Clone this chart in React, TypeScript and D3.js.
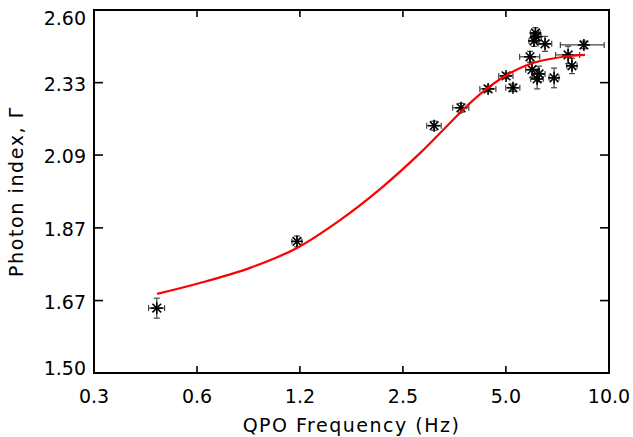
import React from "react";
import * as d3 from "d3";

// QPO frequency (Hz), frequency error, photon index, index error
const freq = [0.46, 1.195, 3.04, 3.65, 4.39, 4.96, 5.2, 6.06, 6.1, 6.0, 6.47, 5.84, 5.92, 6.21, 6.13, 6.88, 8.43, 7.57, 7.77];
const freqErr = [0.025, 0.04, 0.15, 0.2, 0.24, 0.24, 0.25, 0.2, 0.2, 0.2, 0.3, 0.4, 0.25, 0.26, 0.26, 0.23, 1.25, 0.62, 0.27];
const gamma = [1.655, 1.831, 2.182, 2.242, 2.307, 2.353, 2.311, 2.511, 2.496, 2.481, 2.47, 2.422, 2.375, 2.36, 2.342, 2.346, 2.466, 2.429, 2.389];
const gammaErr = [0.025, 0.015, 0.015, 0.015, 0.01, 0.01, 0.013, 0.02, 0.02, 0.02, 0.028, 0.02, 0.028, 0.028, 0.035, 0.035, 0.014, 0.032, 0.028];

// fitted model curve
const fitFreq = [0.461, 0.617, 0.868, 1.195, 1.602, 2.103, 2.762, 3.387, 3.88, 4.45, 5.1, 5.84, 6.69, 7.67, 8.49];
const fitGamma = [1.691, 1.719, 1.759, 1.813, 1.891, 1.982, 2.093, 2.191, 2.258, 2.317, 2.363, 2.396, 2.414, 2.425, 2.429];

const xTicks = [0.3, 0.605, 1.219, 2.458, 4.956, 10.0];
const xTickLabels = ["0.3", "0.6", "1.2", "2.5", "5.0", "10.0"];
const yTicks = [1.5, 1.674, 1.869, 2.087, 2.329, 2.6];
const yTickLabels = ["1.50", "1.67", "1.87", "2.09", "2.33", "2.60"];

const W = 633;
const H = 437;
const L = 94, R = 609, T = 10, B = 373;
const FONT = "'DejaVu Sans', sans-serif";

export default function App() {
  const x = d3.scaleLog().domain([0.3, 10]).range([L, R]);
  const y = d3.scaleLog().domain([1.5, 2.6]).range([B, T]);
  const line = d3
    .line<number>()
    .x((_, i) => x(fitFreq[i]))
    .y((d) => y(d))
    .curve(d3.curveCatmullRom.alpha(0.5));

  const ms = 6;
  const cap = 3;
  return (
    <svg width={W} height={H} style={{ position: "absolute", left: 0, top: 0, background: "#fff" }}>
      <rect x={0} y={0} width={W} height={H} fill="#fff" />
      {/* error bars */}
      <g stroke="#444" strokeWidth={1.2} fill="none">
        {freq.map((f, i) => {
          const cx = x(f), cy = y(gamma[i]);
          const x0 = x(f - freqErr[i]), x1 = x(f + freqErr[i]);
          const y0 = y(gamma[i] - gammaErr[i]), y1 = y(gamma[i] + gammaErr[i]);
          return (
            <g key={"e" + i}>
              <line x1={x0} x2={x1} y1={cy} y2={cy} />
              <line x1={x0} x2={x0} y1={cy - cap} y2={cy + cap} />
              <line x1={x1} x2={x1} y1={cy - cap} y2={cy + cap} />
              <line x1={cx} x2={cx} y1={y0} y2={y1} />
              <line x1={cx - cap} x2={cx + cap} y1={y0} y2={y0} />
              <line x1={cx - cap} x2={cx + cap} y1={y1} y2={y1} />
            </g>
          );
        })}
      </g>
      {/* asterisk markers */}
      <g stroke="#000" strokeWidth={1.6}>
        {freq.map((f, i) => {
          const cx = x(f), cy = y(gamma[i]);
          const d = ms * 0.72;
          return (
            <g key={"m" + i}>
              <line x1={cx - ms} x2={cx + ms} y1={cy} y2={cy} />
              <line x1={cx} x2={cx} y1={cy - ms} y2={cy + ms} />
              <line x1={cx - d} x2={cx + d} y1={cy - d} y2={cy + d} />
              <line x1={cx - d} x2={cx + d} y1={cy + d} y2={cy - d} />
            </g>
          );
        })}
      </g>
      {/* fit curve */}
      <path d={line(fitGamma) || ""} fill="none" stroke="#ff0000" strokeWidth={2.2} />
      {/* frame */}
      <rect x={L} y={T} width={R - L} height={B - T} fill="none" stroke="#000" strokeWidth={2} />
      {/* ticks */}
      <g stroke="#000" strokeWidth={1.6}>
        {xTicks.map((t, i) => (
          <g key={"xt" + i}>
            <line x1={x(t)} x2={x(t)} y1={B} y2={B - 7} />
            <line x1={x(t)} x2={x(t)} y1={T} y2={T + 7} />
          </g>
        ))}
        {yTicks.map((t, i) => (
          <g key={"yt" + i}>
            <line x1={L} x2={L + 9} y1={y(t)} y2={y(t)} />
            <line x1={R} x2={R - 9} y1={y(t)} y2={y(t)} />
          </g>
        ))}
      </g>
      <g fontFamily={FONT} fontSize={19} fill="#000">
        {xTicks.map((t, i) => (
          <text key={"xl" + i} x={x(t)} y={403} textAnchor="middle">
            {xTickLabels[i]}
          </text>
        ))}
        {yTicks.map((t, i) => {
          let yy = y(t) + 8;
          if (i === yTicks.length - 1) yy = y(t) + 15;
          if (i === 0) yy = y(t) + 2;
          return (
            <text key={"yl" + i} x={86} y={yy} textAnchor="end">
              {yTickLabels[i]}
            </text>
          );
        })}
        <text x={(L + R) / 2} y={432} textAnchor="middle" letterSpacing={1.5}>
          QPO Frequency (Hz)
        </text>
        <text transform={`translate(23,${(T + B) / 2}) rotate(-90)`} textAnchor="middle" letterSpacing={1.6}>
          Photon index, Γ
        </text>
      </g>
    </svg>
  );
}
